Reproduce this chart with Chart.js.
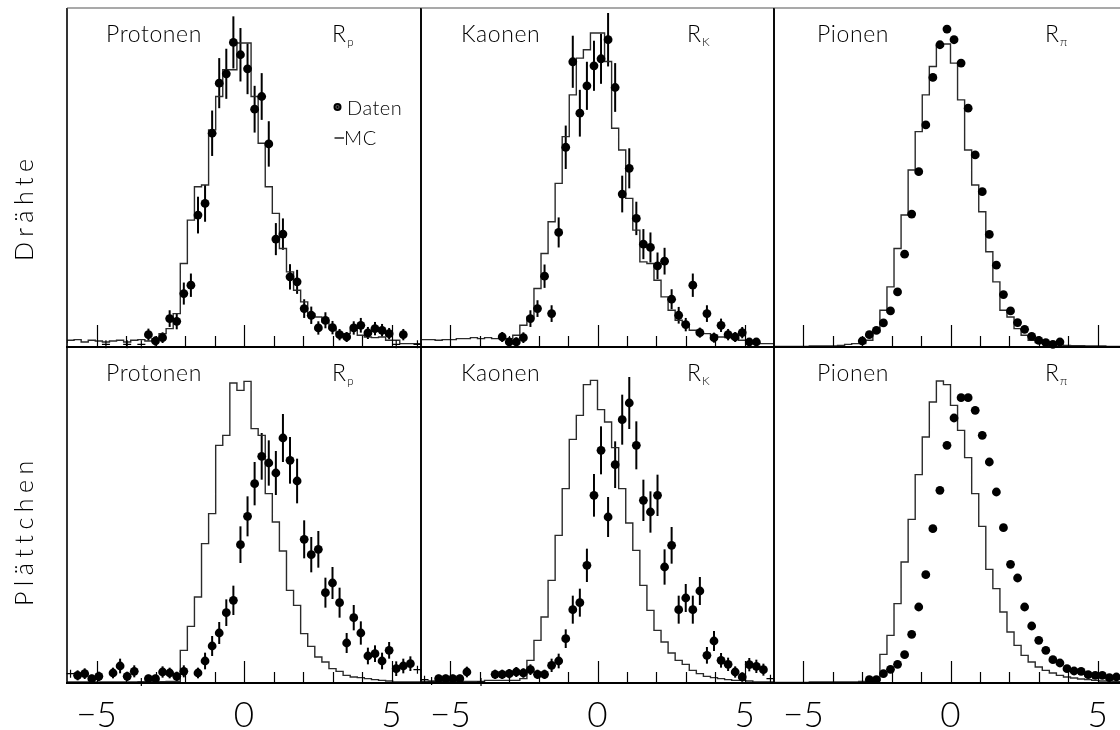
<!DOCTYPE html>
<html lang="de">
<head>
<meta charset="utf-8">
<title>R-Verteilungen: Drähte und Plättchen</title>
<script src="https://cdn.jsdelivr.net/npm/chart.js@4.4.1/dist/chart.umd.min.js"></script>
<style>
  html, body { margin:0; padding:0; background:#fff; }
  #wrap { position:relative; width:1120px; height:730px; overflow:hidden; background:#fff; }
  .panel { position:absolute; }
  .panel canvas { display:block; }
  #txt { position:absolute; left:0; top:0; width:1120px; height:730px; pointer-events:none; z-index:5; }
  #txt text { font-family: Lato, "Open Sans", "DejaVu Sans", sans-serif; font-weight:300; fill:#000; }
</style>
</head>
<body>
<div id="wrap"><svg id="txt" xmlns="http://www.w3.org/2000/svg" width="1120" height="730"></svg></div>
<script>
const _ = null;

// ---- axis / bins ----
const binLow = -6, binHigh = 6, binCount = 50;
const xTickValues = [-5, 0, 5];
const xTickLabels = ["\u22125", "0", "5"];
const xMinorTickValues = [-4, -3, -2, -1, 1, 2, 3, 4];
const particles = ["Protonen", "Kaonen", "Pionen"];
const particleSymbols = ["p", "K", "\u03c0"];
const detectorRows = ["Drähte", "Plättchen"];
const legendLabels = ["Daten", "MC"];
const rowYMax = [1015, 1008];

// ---- Drähte ----
const protonenDraehteDaten = [
   _,  _,  _,  _,  _,  _,  _,  _,  _,  _,
   _, 37, 18, 28, 85, 77,160,185,395,430,
 640,790,818,912,875,833,712,750,608,323,
 338,210,195,115, 95, 57, 80, 58, 37, 30,
  57, 65, 42, 55, 50, 40,  _, 37,  _,  _];
const protonenDraehteFehler = [
   _,  _,  _,  _,  _,  _,  _,  _,  _,  _,
   _, 18, 14, 16, 25, 24, 33, 35, 55, 55,
  68, 75, 75, 78, 80, 76, 70, 70, 68, 48,
  47, 38, 36, 28, 26, 20, 24, 20, 17, 15,
  20, 22, 18, 20, 19, 17,  _, 17,  _,  _];
const protonenDraehteMC = [
  12, 20, 22, 15, 20, 18, 15, 18, 20, 15,
  20, 22, 18, 25, 40, 55,100,250,380,480,
 485,650,750,830,830,910,910,750,610,480,
 400,295,225,170,135,100, 90, 75, 55, 40,
  40, 50, 35, 30, 28, 30, 20, 20, 10, 10];
const protonenDraehteLeer = [[5, 8], [8, 8], [10, 8], [46, 8], [49, 8]];

const kaonenDraehteDaten = [
   _,  _,  _,  _,  _,  _,  _,  _,  _,  _,
   _, 30, 15, 15, 28, 85,115,212,100,343,
 598,854,700,782,842,863,920,777,458,535,
 385,308,298,243,257,143, 95, 67,185, 43,
 100, 28, 65, 37, 30, 43, 15, 15,  _,  _];
const kaonenDraehteFehler = [
   _,  _,  _,  _,  _,  _,  _,  _,  _,  _,
   _, 15, 14, 14, 16, 25, 25, 35, 25, 45,
  65, 78, 70, 72, 75, 75, 80, 73, 55, 60,
  50, 45, 45, 40, 40, 30, 25, 20, 35, 15,
  25, 15, 20, 17, 15, 17, 12, 12,  _,  _];
const kaonenDraehteMC = [
  20, 22, 22, 20, 22, 22, 25, 25, 28, 25,
  28, 25, 25, 25, 35, 65, 90,175,280,375,
 490,630,755,865,890,940,940,855,655,590,
 445,350,255,250,200,150,110, 80, 65, 50,
  45, 40, 35, 30, 28, 25, 20, 18, 12, 10];
const kaonenDraehteLeer = [];

const pionenDraehteDaten = [
   _,  _,  _,  _,  _,  _,  _,  _,  _,  _,
   _,  _, 18, 37, 50, 72,108,165,278,398,
 525,665,807,905,952,920,850,715,575,465,
 337,245,157,108, 73, 53, 32, 20, 13,  8,
  15,  _,  _,  _,  _,  _,  _,  _,  _,  _];
const pionenDraehteFehler = [
   _,  _,  _,  _,  _,  _,  _,  _,  _,  _,
   _,  _,  5,  5,  5,  5,  7,  7,  7,  9,
   9,  9, 11, 11, 12, 11, 11,  9,  9,  9,
   8,  8,  8,  6,  6,  6,  5,  5,  5,  5,
   5,  _,  _,  _,  _,  _,  _,  _,  _,  _];
const pionenDraehteMC = [
   2,  2,  2,  2,  2,  2,  3,  3,  3,  3,
   5,  8, 10, 10, 20, 45,110,180,295,395,
 530,645,755,840,902,907,850,740,590,485,
 405,285,195,110, 90, 55, 35, 20, 13, 10,
   7,  6,  5,  4,  4,  3,  3,  3,  2,  2];
const pionenDraehteLeer = [];

// ---- Plättchen ----
const protonenPlaettchenDaten = [
   _, 23, 28, 13, 20,  _, 30, 51, 20, 35,
   _, 13, 13, 33, 30, 20, 35,  _, 30, 66,
 111,150,211,248,415,500,598,680,660,630,
 735,668,606,431,385,401,271,300,241,120,
 196,150, 81, 88, 66, 98, 43, 51, 58,  _];
const protonenPlaettchenFehler = [
   _, 15, 16, 12, 14,  _, 16, 22, 14, 18,
   _, 12, 12, 17, 16, 14, 18,  _, 16, 25,
  30, 33, 40, 44, 55, 60, 65, 70, 68, 66,
  72, 70, 67, 57, 53, 55, 45, 48, 45, 30,
  38, 35, 25, 25, 25, 25, 22, 22, 22,  _];
const protonenPlaettchenMC = [
   3,  3,  3,  3,  3,  3,  3,  3,  3,  3,
   3,  3,  3,  3,  4,  5,  5, 98,170,258,
 418,508,713,743,900,878,905,763,743,568,
 483,396,278,233,148,110, 78, 63, 43, 35,
  23, 18, 16, 13, 10,  8,  6,  3,  3,  3];
const protonenPlaettchenLeer = [[0, 28], [10, 3], [49, 40]];

const kaonenPlaettchenDaten = [
   _,  _, 13, 13, 13, 13, 33,  _,  _,  _,
  26, 26, 28, 33, 30, 40, 26, 26, 53, 66,
 133,220,241,353,563,698,498,655,790,840,
 713,548,513,563,348,413,220,255,220,276,
  83,126, 68, 56, 33, 18, 55, 50, 40,  _];
const kaonenPlaettchenFehler = [
   _,  _, 12, 12, 12, 12, 16,  _,  _,  _,
  14, 14, 14, 15, 14, 16, 14, 14, 20, 22,
  28, 42, 42, 50, 64, 72, 60, 70, 75, 78,
  72, 62, 62, 62, 53, 55, 42, 42, 42, 42,
  25, 30, 22, 20, 17, 14, 20, 20, 18,  _];
const kaonenPlaettchenMC = [
   5,  5,  5,  5,  5,  5,  5,  5,  5,  5,
   8,  8,  8,  8,  8, 13, 68,128,198,308,
 443,583,731,803,895,908,820,783,706,583,
 480,398,293,218,158,123, 90, 68, 56, 38,
  28, 20, 16, 13, 10,  8,  8,  6,  3,  3];
const kaonenPlaettchenLeer = [[0, 10], [1, 6], [8, 3], [49, 13]];

const pionenPlaettchenDaten = [
   _,  _,  _,  _,  _,  _,  _,  _,  _,  _,
   _,  _,  _, 10, 10, 28, 41, 56, 85,146,
 228,325,463,578,713,795,856,856,818,743,
 663,573,466,356,315,228,171,128, 98, 70,
  60, 43, 36, 35, 25, 23, 23, 16, 18, 15];
const pionenPlaettchenFehler = [
   _,  _,  _,  _,  _,  _,  _,  _,  _,  _,
   _,  _,  _,  5,  5,  5,  5,  5,  7,  7,
   7,  9,  9,  9, 11, 11, 11, 11, 11, 11,
  10, 10, 10, 10,  8,  8,  8,  6,  6,  6,
   6,  5,  5,  5,  5,  5,  5,  5,  5,  5];
const pionenPlaettchenMC = [
   2,  2,  2,  2,  2,  2,  3,  3,  3,  3,
   3,  3,  3,  5,  5,  8, 86,143,238,363,
 491,625,738,843,906,895,833,758,676,568,
 470,341,283,213,153,113, 83, 63, 48, 38,
  30, 23, 18, 15, 12, 10,  8,  6,  6,  4];
const pionenPlaettchenLeer = [];

const panelData = [
  [ {daten: protonenDraehteDaten, fehler: protonenDraehteFehler, mc: protonenDraehteMC, leer: protonenDraehteLeer},
    {daten: kaonenDraehteDaten,   fehler: kaonenDraehteFehler,   mc: kaonenDraehteMC,   leer: kaonenDraehteLeer},
    {daten: pionenDraehteDaten,   fehler: pionenDraehteFehler,   mc: pionenDraehteMC,   leer: pionenDraehteLeer} ],
  [ {daten: protonenPlaettchenDaten, fehler: protonenPlaettchenFehler, mc: protonenPlaettchenMC, leer: protonenPlaettchenLeer},
    {daten: kaonenPlaettchenDaten,   fehler: kaonenPlaettchenFehler,   mc: kaonenPlaettchenMC,   leer: kaonenPlaettchenLeer},
    {daten: pionenPlaettchenDaten,   fehler: pionenPlaettchenFehler,   mc: pionenPlaettchenMC,   leer: pionenPlaettchenLeer} ]
];

// ---- layout (styling only) ----
const colLeft = [67, 421, 774], colWidth = [354, 353, 353];
const rowTop = [8, 347], rowHeight = [339, 336];
const PAD = 14;
const nameOffset = [39, 40, 43], symOffset = [265, 266, 271];

const binWidth = (binHigh - binLow) / binCount;
const centers = Array.from({length: binCount}, (v, i) => binLow + binWidth * (i + 0.5));
const edges = Array.from({length: binCount + 1}, (v, i) => binLow + binWidth * i);

const wrap = document.getElementById('wrap');
const svg = document.getElementById('txt');
const svgNS = 'http://www.w3.org/2000/svg';
function svgEl(tag, attrs, parent) {
  const e = document.createElementNS(svgNS, tag);
  for (const k in attrs) e.setAttribute(k, attrs[k]);
  (parent || svg).appendChild(e);
  return e;
}
function svgText(str, attrs, parent) { const t = svgEl('text', attrs, parent); t.textContent = str; return t; }

function decor(d, r) {
  return {
    id: 'decor',
    beforeDatasetsDraw(chart) {
      const ctx = chart.ctx, x = chart.scales.x, y = chart.scales.y;
      ctx.save();
      ctx.strokeStyle = '#000'; ctx.lineWidth = 2;
      d.daten.forEach((v, i) => {
        const e = d.fehler[i];
        if (v === null || e === null) return;
        const px = x.getPixelForValue(centers[i]);
        ctx.beginPath();
        ctx.moveTo(px, y.getPixelForValue(Math.max(0, v - e)));
        ctx.lineTo(px, y.getPixelForValue(v + e));
        ctx.stroke();
      });
      ctx.restore();
    },
    afterDatasetsDraw(chart) {
      const ctx = chart.ctx, a = chart.chartArea, x = chart.scales.x;
      ctx.save();
      ctx.strokeStyle = '#000';
      ctx.lineWidth = 1.2;
      xMinorTickValues.forEach(v => {
        const px = Math.round(x.getPixelForValue(v)) + 0.5;
        ctx.beginPath(); ctx.moveTo(px, a.bottom); ctx.lineTo(px, a.bottom - 11); ctx.stroke();
      });
      xTickValues.forEach(v => {
        const px = Math.round(x.getPixelForValue(v)) + 0.5;
        ctx.beginPath(); ctx.moveTo(px, a.bottom); ctx.lineTo(px, a.bottom - 22); ctx.stroke();
      });
      // frame
      ctx.lineWidth = 1.6;
      ctx.beginPath(); ctx.moveTo(a.left, a.top); ctx.lineTo(a.left, a.bottom); ctx.stroke();
      ctx.beginPath(); ctx.moveTo(a.right, a.top); ctx.lineTo(a.right, a.bottom); ctx.stroke();
      ctx.lineWidth = 2;
      ctx.beginPath(); ctx.moveTo(a.left - 1, a.bottom); ctx.lineTo(a.right + 1, a.bottom); ctx.stroke();
      if (r === 0) {
        ctx.strokeStyle = '#555'; ctx.lineWidth = 1.2;
        ctx.beginPath(); ctx.moveTo(a.left, a.top); ctx.lineTo(a.right, a.top); ctx.stroke();
      }
      ctx.restore();
    }
  };
}

const charts = [];
for (let r = 0; r < 2; r++) {
  for (let c = 0; c < 3; c++) {
    const d = panelData[r][c];
    const holder = document.createElement('div');
    holder.className = 'panel';
    holder.style.left = (colLeft[c] - PAD) + 'px';
    holder.style.top = (rowTop[r] - PAD) + 'px';
    holder.style.width = (colWidth[c] + 2 * PAD) + 'px';
    holder.style.height = (rowHeight[r] + 2 * PAD) + 'px';
    const cv = document.createElement('canvas');
    holder.appendChild(cv);
    wrap.insertBefore(holder, svg);

    const mcPts = edges.map((e, i) => ({x: e, y: d.mc[Math.min(i, binCount - 1)]}));
    const datPts = centers.map((x, i) => ({x: x, y: d.daten[i]})).filter(p => p.y !== null);
    const leerPts = d.leer.map(p => ({x: centers[p[0]], y: p[1]}));

    const chart = new Chart(cv, {
      type: 'scatter',
      data: {
        datasets: [
          {type: 'line', label: legendLabels[1], data: mcPts, stepped: 'after', borderColor: '#2b2b2b',
           borderWidth: 1.4, pointRadius: 0, fill: false, tension: 0, order: 3},
          {label: legendLabels[0], data: datPts, pointRadius: 4.4, pointHoverRadius: 4.4,
           backgroundColor: '#000', borderColor: '#000', borderWidth: 0, clip: false, order: 1},
          {label: 'leer', data: leerPts, pointStyle: 'cross', pointRadius: 4, borderColor: '#000',
           borderWidth: 1.2, clip: false, order: 2}
        ]
      },
      options: {
        responsive: true, maintainAspectRatio: false, animation: false, events: [],
        devicePixelRatio: 1,
        layout: {padding: PAD},
        plugins: {legend: {display: false}, tooltip: {enabled: false}},
        scales: {
          x: {type: 'linear', min: binLow, max: binHigh, display: false},
          y: {type: 'linear', min: 0, max: rowYMax[r], display: false}
        }
      },
      plugins: [decor(d, r)]
    });
    charts.push(chart);

    // panel texts
    const base = rowTop[r] + 34;
    svgText(particles[c], {x: colLeft[c] + nameOffset[c], y: base, 'font-size': 23, 'letter-spacing': 0.6});
    const t = svgEl('text', {x: colLeft[c] + symOffset[c], y: base, 'font-size': 23});
    const t1 = svgEl('tspan', {}, t); t1.textContent = 'R';
    const t2 = svgEl('tspan', {'font-size': 12, dy: 4, dx: 1}, t); t2.textContent = particleSymbols[c];

    // tick labels under lower row
    if (r === 1) {
      xTickValues.forEach((v, k) => {
        const px = chart.scales.x.getPixelForValue(v) + colLeft[c] - PAD;
        svgText(xTickLabels[k], {x: px, y: 727, 'font-size': 35, 'text-anchor': 'middle'});
      });
    }
  }
}

// legend (top-left panel)
svgEl('circle', {cx: 337.5, cy: 107, r: 4, fill: '#000'});
svgEl('circle', {cx: 337.5, cy: 107, r: 1.6, fill: 'none', stroke: '#777', 'stroke-width': 0.8});
svgText(legendLabels[0], {x: 347, y: 115, 'font-size': 20, 'letter-spacing': 0.5});
svgEl('line', {x1: 334.5, y1: 138, x2: 344, y2: 138, stroke: '#000', 'stroke-width': 1.3});
svgText(legendLabels[1], {x: 344, y: 145, 'font-size': 20, 'letter-spacing': 0.5});

// row labels
svgText(detectorRows[0], {x: 33, y: 261, 'font-size': 25, 'letter-spacing': 5.5, transform: 'rotate(-90 33 261)'});
svgText(detectorRows[1], {x: 33, y: 606, 'font-size': 25, 'letter-spacing': 5.5, transform: 'rotate(-90 33 606)'});
</script>
</body>
</html>
